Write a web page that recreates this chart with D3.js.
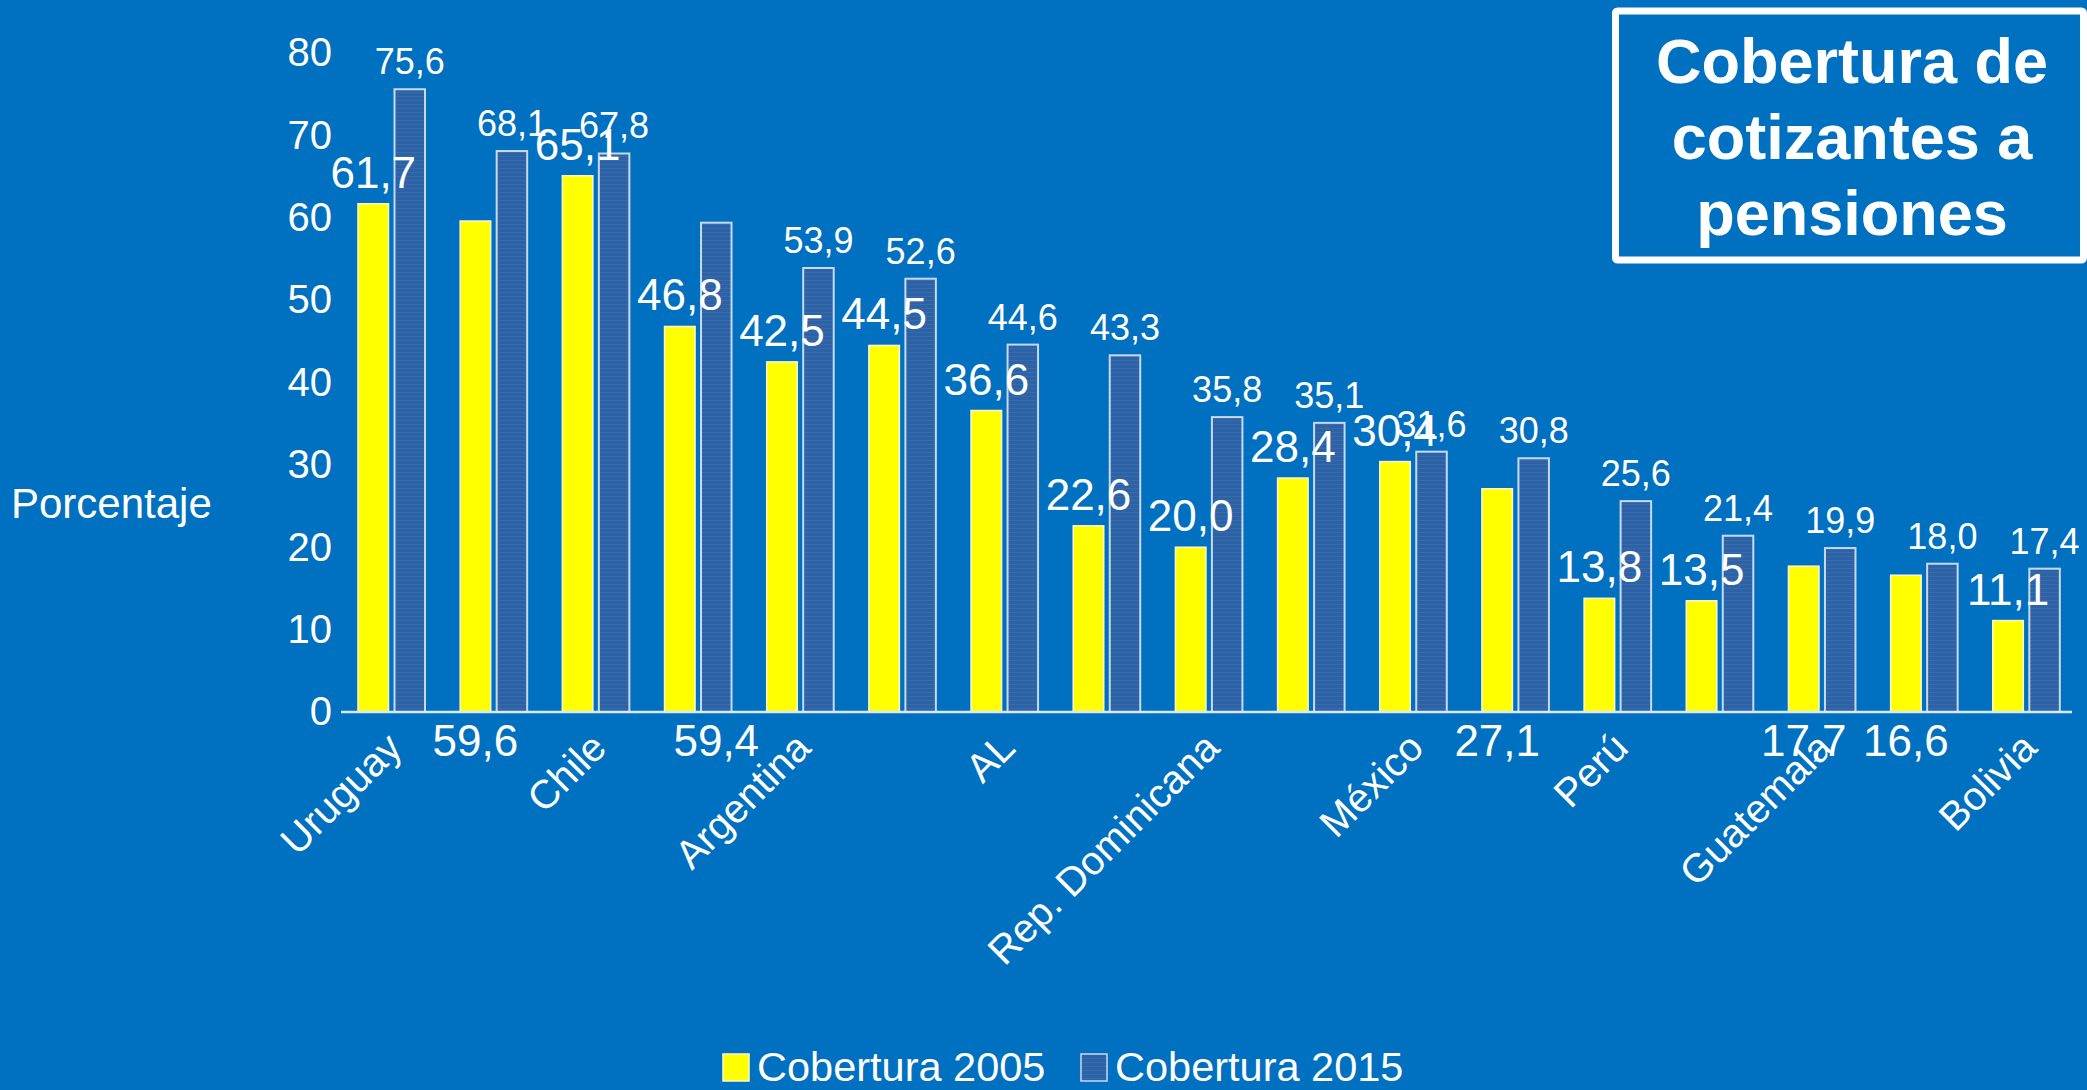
<!DOCTYPE html>
<html>
<head>
<meta charset="utf-8">
<script src="https://cdn.jsdelivr.net/npm/d3@7"></script>
<style>
  body { margin: 0; background: #0070c0; }
  svg text { font-family: "Liberation Sans", Arial, sans-serif; fill: #fff; }
</style>
</head>
<body>
<script>
var W = 2087, H = 1090;

// data
var paises = ["Uruguay", "Costa Rica", "Chile", "Brasil", "Argentina", "Panamá", "AL", "Ecuador",
              "Rep. Dominicana", "Colombia", "México", "El Salvador", "Perú", "Paraguay",
              "Guatemala", "Honduras", "Bolivia"];
var cob2005 = [61.7, 59.6, 65.1, 46.8, 42.5, 44.5, 36.6, 22.6, 20.0, 28.4, 30.4, 27.1, 13.8, 13.5, 17.7, 16.6, 11.1];
var cob2015 = [75.6, 68.1, 67.8, 59.4, 53.9, 52.6, 44.6, 43.3, 35.8, 35.1, 31.6, 30.8, 25.6, 21.4, 19.9, 18.0, 17.4];
var series = ["Cobertura 2005", "Cobertura 2015"];
var yTicks = [0, 10, 20, 30, 40, 50, 60, 70, 80];
// labels that the original chart dropped below the axis
var bajoEje2005 = ["Costa Rica", "El Salvador", "Guatemala", "Honduras"];
var bajoEje2015 = ["Brasil"];
var titulo = ["Cobertura de", "cotizantes a", "pensiones"];

var rows = paises.map(function(p, i) { return {pais: p, v: [cob2005[i], cob2015[i]]}; });

var svg = d3.select("body").append("svg")
  .attr("width", W).attr("height", H);

svg.append("rect").attr("width", W).attr("height", H).attr("fill", "#0070c0");

// stripe pattern for the 2015 bars
var pat = svg.append("defs").append("pattern")
  .attr("id", "rayas").attr("patternUnits", "userSpaceOnUse")
  .attr("width", 8).attr("height", 4);
pat.append("rect").attr("width", 8).attr("height", 4).attr("fill", "#2b63a9");
pat.append("rect").attr("y", 0).attr("width", 8).attr("height", 1).attr("fill", "#3d6aa6");

var x = d3.scaleBand().domain(paises).range([341, 2078]);
var xs = d3.scaleBand().domain([0, 1]).range([17, 84]).paddingInner(0.164);
var y = d3.scaleLinear().domain([0, 80]).range([712, 53]);

var colores = ["#ffff00", "url(#rayas)"];
var bordes = ["#fffbd0", "#c9d8ee"];

// y axis (labels only)
var gy = svg.append("g")
  .attr("transform", "translate(341,0)")
  .call(d3.axisLeft(y).tickValues(yTicks).tickSize(0).tickPadding(9));
gy.select(".domain").remove();
gy.selectAll("text").attr("font-size", 40).attr("fill", "#fff")
  .style("font-family", "Liberation Sans, Arial, sans-serif");

svg.append("text")
  .attr("x", 11).attr("y", 503).attr("dy", "0.35em")
  .attr("font-size", 42)
  .text("Porcentaje");

// bars
var grp = svg.selectAll(".pais").data(rows).enter().append("g")
  .attr("class", "pais")
  .attr("transform", function(d) { return "translate(" + x(d.pais) + ",0)"; });

grp.selectAll("rect").data(function(d) { return d.v; }).enter().append("rect")
  .attr("x", function(d, i) { return xs(i); })
  .attr("y", function(d) { return y(d); })
  .attr("width", xs.bandwidth())
  .attr("height", function(d) { return y(0) - y(d); })
  .attr("fill", function(d, i) { return colores[i]; })
  .attr("stroke", function(d, i) { return bordes[i]; })
  .attr("stroke-width", function(d, i) { return i ? 2 : 1.5; });

// x axis
var gx = svg.append("g")
  .attr("transform", "translate(0,712)")
  .call(d3.axisBottom(x).tickSize(0).tickSizeOuter(0)
    .tickFormat(function(d, i) { return i % 2 ? "" : d; }));
gx.select(".domain").attr("stroke", "#dce8f6").attr("stroke-width", 2.5)
  .attr("d", "M341,0H2072");
gx.selectAll("text")
  .attr("font-size", 40).attr("fill", "#fff")
  .style("font-family", "Liberation Sans, Arial, sans-serif")
  .attr("text-anchor", "end")
  .attr("x", 0).attr("y", 0).attr("dy", 0)
  .attr("transform", "translate(12,38) rotate(-45)");

// value labels
var fmt = function(v) { return d3.format(".1f")(v).replace(".", ","); };

grp.append("text")
  .attr("x", xs(0) + xs.bandwidth() / 2)
  .attr("y", function(d) {
    return bajoEje2005.indexOf(d.pais) >= 0 ? 756 : y(d.v[0]) - 16;
  })
  .attr("text-anchor", "middle")
  .attr("font-size", 44)
  .text(function(d) { return fmt(d.v[0]); });

grp.append("text")
  .attr("x", xs(1) + xs.bandwidth() / 2)
  .attr("y", function(d) {
    return bajoEje2015.indexOf(d.pais) >= 0 ? 756 : y(d.v[1]) - 15;
  })
  .attr("text-anchor", "middle")
  .attr("font-size", function(d) { return bajoEje2015.indexOf(d.pais) >= 0 ? 44 : 36; })
  .text(function(d) { return fmt(d.v[1]); });

// title box
svg.append("rect")
  .attr("x", 1615.5).attr("y", 11).attr("width", 468).attr("height", 249)
  .attr("fill", "none").attr("stroke", "#fff").attr("stroke-width", 7).attr("rx", 2);
svg.selectAll(".titulo").data(titulo).enter().append("text")
  .attr("class", "titulo")
  .attr("x", 1852).attr("y", function(d, i) { return 83 + i * 76; })
  .attr("text-anchor", "middle")
  .attr("font-size", 63).attr("font-weight", "bold")
  .text(function(d) { return d; });

// legend
var leg = svg.selectAll(".leg").data(series).enter().append("g")
  .attr("class", "leg")
  .attr("transform", function(d, i) { return "translate(" + (723 + i * 358) + ",1054)"; });
leg.append("rect")
  .attr("width", 26).attr("height", 27)
  .attr("fill", function(d, i) { return colores[i]; })
  .attr("stroke", function(d, i) { return bordes[i]; })
  .attr("stroke-width", 1.5);
leg.append("text")
  .attr("x", 34).attr("y", 27)
  .attr("font-size", 41.5)
  .text(function(d) { return d; });
</script>
</body>
</html>
